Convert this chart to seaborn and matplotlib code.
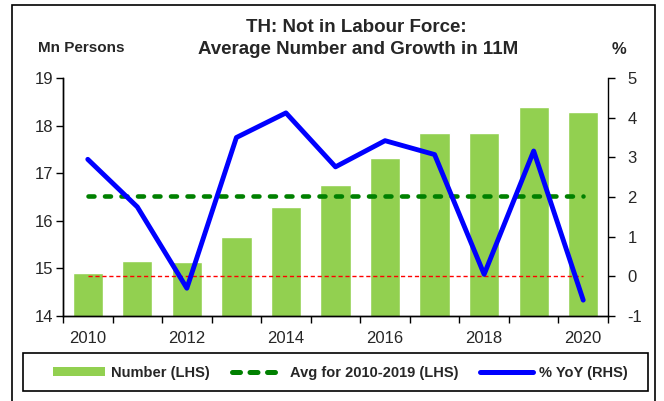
import pandas as pd
import numpy as np
import matplotlib
matplotlib.use('Agg')
import matplotlib.pyplot as plt
import seaborn as sns
from matplotlib.lines import Line2D
from matplotlib.patches import Patch, Rectangle
from matplotlib.ticker import FixedLocator

sns.set_style('white')
plt.rcParams['font.family'] = ['Liberation Sans', 'DejaVu Sans']
plt.rcParams['axes.unicode_minus'] = False

df = pd.DataFrame({
    'year': [2010, 2011, 2012, 2013, 2014, 2015, 2016, 2017, 2018, 2019, 2020],
    'number': [14.90, 15.16, 15.13, 15.67, 16.29, 16.75, 17.31, 17.84, 17.84, 18.40, 18.29],
    'yoy': [2.95, 1.75, -0.30, 3.50, 4.12, 2.76, 3.42, 3.07, 0.05, 3.16, -0.60],
})
avg = df.loc[df['year'] <= 2019, 'number'].mean()
df['pos'] = np.arange(len(df))

green = '#92D050'
dkgreen = '#008000'
blue = '#0000FF'
dash = (0, (1.3, 2.3))

fig = plt.figure(figsize=(6.64, 4.01), dpi=100)
ax = fig.add_axes([63/664, 1 - 316/401, (608-63)/664, (316-78)/401])

sns.barplot(x='pos', y='number', data=df, color=green, width=0.61,
            saturation=1, ax=ax, native_scale=True, zorder=1)
ax.plot(df['pos'], [avg]*len(df), color=dkgreen, lw=3.3, ls=dash,
        dash_capstyle='round', zorder=3)
ax.set_ylim(14, 19)
ax.set_xlim(-0.5, 10.5)
ax.set_xlabel('')
ax.set_ylabel('')

ax2 = ax.twinx()
ax2.plot(df['pos'], [0]*len(df), color='red', lw=1, ls=(0, (3, 2)), zorder=2)
sns.lineplot(x='pos', y='yoy', data=df, color=blue, lw=3.5, ax=ax2, zorder=4)
ax2.set_ylim(-1, 5)
ax2.set_xlim(-0.5, 10.5)
ax2.set_xlabel('')
ax2.set_ylabel('')
ax2.patch.set_visible(False)

# x ticks: labels at bar centres, marks at category boundaries
ax.set_xticks(df['pos'][::2])
ax.set_xticklabels(df['year'][::2])
ax.xaxis.set_minor_locator(FixedLocator(np.arange(-0.5, 11, 1)))
ax.tick_params(axis='x', which='major', length=0, labelsize=12, pad=11)
ax.tick_params(axis='x', which='minor', length=5, width=1, direction='out', bottom=True, color='black')
ax.set_yticks(range(14, 20))
ax.tick_params(axis='y', length=5, width=1, direction='out', left=True, labelsize=12, color='black', pad=2)
ax2.set_yticks(range(-1, 6))
ax2.tick_params(axis='y', length=5, width=1, direction='out', right=True, labelsize=12, color='black', pad=9)

for a in (ax, ax2):
    a.spines['top'].set_visible(False)
    for s in ('left', 'right', 'bottom'):
        a.spines[s].set_color('black')
        a.spines[s].set_linewidth(1)
ax.spines['right'].set_visible(False)

fig.text(356/664, 1 - 27/401, 'TH: Not in Labour Force:', ha='center', va='center',
         fontsize=13.5, fontweight='bold')
fig.text(358/664, 1 - 50/401, 'Average Number and Growth in 11M', ha='center', va='center',
         fontsize=13.5, fontweight='bold')
fig.text(38/664, 1 - 48/401, 'Mn Persons', ha='left', va='center', fontsize=11, fontweight='bold')
fig.text(619/664, 1 - 50/401, '%', ha='center', va='center', fontsize=12, fontweight='bold')

handles = [
    Patch(facecolor=green, edgecolor='none'),
    Line2D([], [], color=dkgreen, lw=3.6, ls=(0, (1.6, 1.9)), dash_capstyle='round'),
    Line2D([], [], color=blue, lw=3.6),
]
labels = ['Number (LHS)', 'Avg for 2010-2019 (LHS)', '% YoY (RHS)']
leg = fig.legend(handles, labels, loc='center', ncol=3,
                 bbox_to_anchor=(340/664, 1 - 373/401), frameon=False,
                 handlelength=3.6, handleheight=0.55, prop={'weight': 'bold', 'size': 10.5},
                 handletextpad=0.4, columnspacing=1.5)

fig.patches.append(Rectangle((23/664, 1 - 391/401), 625/664, 38/401, transform=fig.transFigure,
                             fill=False, edgecolor='black', lw=1.2))
fig.patches.append(Rectangle((12/664, -0.05), 643/664, 1.05 - 5/401, transform=fig.transFigure,
                             fill=False, edgecolor='black', lw=1.2))

fig.savefig('out.png', dpi=100)
